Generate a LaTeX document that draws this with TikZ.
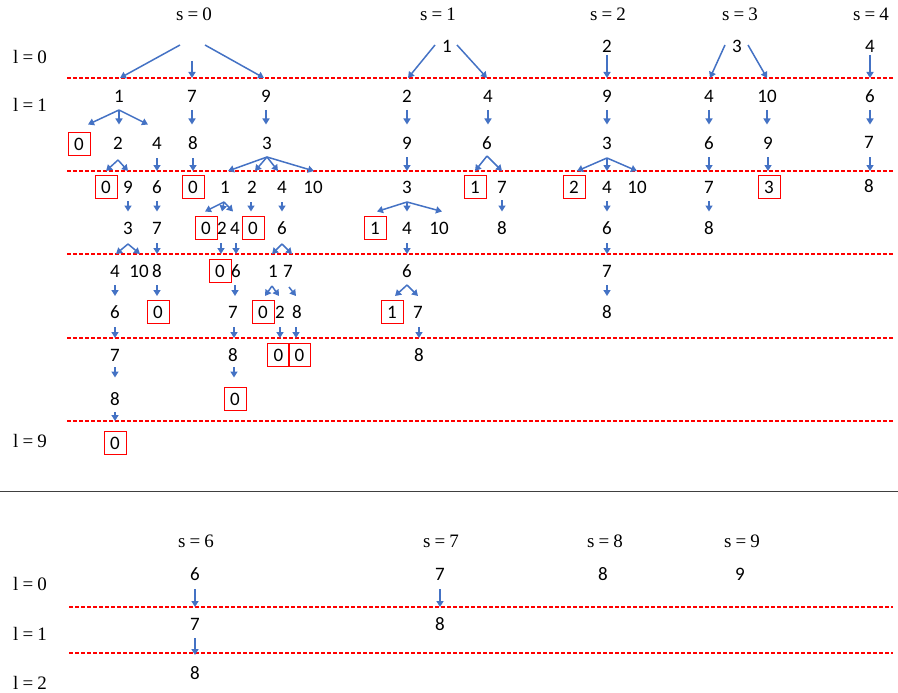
\documentclass[tikz,border=0pt]{standalone}
\usepackage{fontspec}
\setmainfont{Carlito}
\newfontfamily\labserif{Liberation Serif}
\usetikzlibrary{arrows.meta}
\definecolor{arrblue}{HTML}{4472C4}
\definecolor{dred}{HTML}{FF0000}
\newcommand\mynum[4]{\node[num] (#1) at (#2,#3) {#4};}
\newcommand\mybox[4]{\node[bx] (#1) at (#2,#3) {#4};}
\newcommand\myarr[4]{\draw[arr] (#1,#2) -- (#3,#4);}
\newcommand\myline[2]{\draw[dl] (67,#1) -- (893,#1);}
\newcommand\eqlab[2]{#1\hspace{0.22em}=\hspace{0.22em}#2}
\begin{document}
\begin{tikzpicture}[x=1pt,y=-1pt,
  num/.style={inner sep=0pt,font=\fontsize{19}{20}\selectfont},
  bx/.style={num,draw=dred,line width=0.9pt,minimum width=22pt,minimum height=23pt},
  lab/.style={inner sep=0pt,font=\labserif\fontsize{19}{20}\selectfont},
  arr/.style={draw=arrblue,line width=1.5pt,-{Triangle[length=6pt,width=7pt]}},
  dl/.style={draw=dred,line width=1.4pt,dash pattern=on 4pt off 2pt},
  sep/.style={draw=black!75,line width=1.1pt}]
\useasboundingbox (0,0) rectangle (898,693);
% ---------- labels ----------
\node[lab] (s0) at (194,14) {\eqlab{s}{0}};
\node[lab] (s1) at (438,14) {\eqlab{s}{1}};
\node[lab] (s2) at (608,14) {\eqlab{s}{2}};
\node[lab] (s3) at (740,14) {\eqlab{s}{3}};
\node[lab] (s4) at (871,14) {\eqlab{s}{4}};
\node[lab] (l0) at (30,57) {\eqlab{l}{0}};
\node[lab] (l1) at (30,105) {\eqlab{l}{1}};
\node[lab] (l9) at (30,441) {\eqlab{l}{9}};
% ---------- dashed level lines ----------
\myline{78}\myline{124.5}\myline{171}\myline{211.5}\myline{254}\myline{296}\myline{338}\myline{377.5}\myline{421}
% ---------- s = 0 ----------
\mynum{a0}{193}{46}{0}
\mynum{a1}{119}{96}{1}\mynum{a7}{192}{96}{7}\mynum{a9}{266}{96}{9}
\mybox{b0}{79}{144}{0}\mynum{b2}{118}{143}{2}\mynum{b4}{157}{143}{4}\mynum{b8}{193}{143}{8}\mynum{b3}{267}{143}{3}
\mybox{c0}{106}{187}{0}\mynum{c9}{128}{187}{9}\mynum{c6}{157}{187}{6}\mybox{c0b}{193}{187}{0}
\mynum{c1}{225}{187}{1}\mynum{c2}{252}{187}{2}\mynum{c4}{282}{187}{4}\mynum{c10}{313}{187}{10}
\mynum{d3}{128}{228}{3}\mynum{d7}{157}{228}{7}\mybox{d0}{206}{228}{0}\mynum{d2}{222}{228}{2}
\mynum{d4}{235}{228}{4}\mybox{d0b}{253}{228}{0}\mynum{d6}{282}{228}{6}
\mynum{e4}{115}{271}{4}\mynum{e10}{139}{271}{10}\mynum{e8}{157}{271}{8}\mybox{e0}{220}{271}{0}
\mynum{e6}{236}{271}{6}\mynum{e1}{273}{271}{1}\mynum{e7}{288}{271}{7}
\mynum{f6}{115}{312}{6}\mybox{f0}{158}{312}{0}\mynum{f7}{233}{312}{7}\mybox{f0b}{263}{312}{0}
\mynum{f2}{280}{312}{2}\mynum{f8}{297}{312}{8}
\mynum{g7}{115}{355}{7}\mynum{g8}{233}{355}{8}\mybox{g0}{278.5}{355}{0}\mybox{g0b}{299.5}{355}{0}
\mynum{h8}{115}{399}{8}\mybox{h0}{235}{399}{0}
\mybox{i0}{115}{443}{0}
\myarr{180}{45}{120}{78}\myarr{192}{61}{192}{78}\myarr{205}{45}{264}{78}
\myarr{119}{110}{88}{124.5}\myarr{119}{110}{119}{124.5}\myarr{119}{110}{148}{124.5}
\myarr{192}{110}{192}{124.5}\myarr{266}{110}{266}{124.5}
\myarr{118}{160}{106}{171}\myarr{118}{160}{128}{171}\myarr{157}{158}{157}{171}\myarr{193}{158}{193}{171}
\myarr{267}{157}{228}{171}\myarr{267}{157}{255}{171}\myarr{267}{157}{278}{171}\myarr{267}{157}{314}{171}
\myarr{128}{201}{128}{211.5}\myarr{157}{201}{157}{211.5}
\myarr{224}{202}{205}{211.5}\myarr{224}{202}{222}{211.5}\myarr{224}{202}{233}{211.5}
\myarr{251}{202}{251}{211.5}\myarr{282}{202}{282}{211.5}
\myarr{128}{244}{116}{254}\myarr{128}{244}{140}{254}\myarr{157}{243}{157}{254}
\myarr{221}{243}{221}{254}\myarr{236}{243}{236}{254}
\myarr{282}{244}{272}{254}\myarr{282}{244}{292}{254}
\myarr{115}{285}{115}{296}\myarr{157}{285}{157}{296}\myarr{235}{285}{235}{296}
\myarr{272}{286}{265}{296}\myarr{272}{286}{279}{296}\myarr{289}{287}{296}{296}
\myarr{115}{327}{115}{338}\myarr{234}{327}{234}{338}\myarr{280}{327}{280}{338}\myarr{296}{327}{296}{338}
\myarr{115}{367}{115}{377.5}\myarr{234}{367}{234}{377.5}
\myarr{115}{412}{115}{421}
% ---------- s = 1 ----------
\mynum{p1}{447}{46}{1}
\mynum{q2}{407}{96}{2}\mynum{q4}{488}{96}{4}
\mynum{r9}{407}{143}{9}\mynum{r6}{487}{143}{6}
\mynum{t3}{407}{187}{3}\mybox{t1}{475}{187}{1}\mynum{t7}{502}{187}{7}
\mybox{u1}{375}{228}{1}\mynum{u4}{407}{228}{4}\mynum{u10}{439}{228}{10}\mynum{u8}{502}{228}{8}
\mynum{v6}{407}{271}{6}
\mybox{w1}{392}{312}{1}\mynum{w7}{418}{312}{7}
\mynum{x8}{419}{355}{8}
\myarr{435}{45}{408}{78}\myarr{457}{45}{487}{78}
\myarr{407}{110}{407}{124.5}\myarr{488}{110}{488}{124.5}
\myarr{407}{157}{407}{171}\myarr{487}{156}{475}{171}\myarr{487}{156}{502}{171}
\myarr{407}{202}{377}{211.5}\myarr{407}{202}{407}{211.5}\myarr{407}{202}{442}{211.5}
\myarr{502}{200}{502}{211.5}
\myarr{407}{243}{407}{254}
\myarr{407}{285}{395}{296}\myarr{407}{285}{418}{296}
\myarr{419}{327}{419}{338}
% ---------- s = 2 ----------
\mynum{m2}{607}{46}{2}
\mynum{m9}{607}{96}{9}
\mynum{m3}{607}{143}{3}
\mybox{n2}{574}{187}{2}\mynum{n4}{607}{187}{4}\mynum{n10}{637}{187}{10}
\mynum{n6}{607}{228}{6}
\mynum{n7}{607}{271}{7}
\mynum{n8}{607}{312}{8}
\myarr{607}{55}{607}{78}\myarr{607}{110}{607}{124.5}
\myarr{607}{158}{577}{171}\myarr{607}{158}{607}{171}\myarr{607}{158}{637}{171}
\myarr{607}{201}{607}{211.5}\myarr{607}{243}{607}{254}\myarr{607}{285}{607}{296}
% ---------- s = 3 ----------
\mynum{k3}{737}{46}{3}
\mynum{k4}{709}{96}{4}\mynum{k10}{767}{96}{10}
\mynum{k6}{709}{143}{6}\mynum{k9}{768}{143}{9}
\mynum{k7}{709}{187}{7}\mybox{kb3}{769}{187}{3}
\mynum{k8}{709}{228}{8}
\myarr{725}{45}{710}{78}\myarr{748}{45}{767}{78}
\myarr{709}{110}{709}{124.5}\myarr{767}{110}{767}{124.5}
\myarr{709}{157}{709}{171}\myarr{768}{157}{768}{171}
\myarr{709}{201}{709}{211.5}
% ---------- s = 4 ----------
\mynum{z4}{870}{46}{4}
\mynum{z6}{870}{96}{6}
\mynum{z7}{869}{142}{7}
\mynum{z8}{869}{186}{8}
\myarr{870}{55}{870}{78}\myarr{870}{110}{870}{124.5}\myarr{870}{157}{870}{171}
% ---------- separator ----------
\draw[sep] (0,491.5) -- (898,491.5);
% ---------- bottom part ----------
\node[lab] (s6) at (196,541) {\eqlab{s}{6}};
\node[lab] (s7) at (441,541) {\eqlab{s}{7}};
\node[lab] (s8) at (605,541) {\eqlab{s}{8}};
\node[lab] (s9) at (742,541) {\eqlab{s}{9}};
\node[lab] (bl0) at (30,584) {\eqlab{l}{0}};
\node[lab] (bl1) at (30,634) {\eqlab{l}{1}};
\node[lab] (bl2) at (30,683) {\eqlab{l}{2}};
\draw[dl] (69,607) -- (893,607);
\draw[dl] (69,653) -- (893,653);
\mynum{B6}{195}{574}{6}\mynum{B7}{440}{574}{7}\mynum{B8}{603}{574}{8}\mynum{B9}{740}{574}{9}
\mynum{C7}{195}{624}{7}\mynum{C8}{440}{624}{8}
\mynum{D8}{195}{673}{8}
\myarr{195}{589}{195}{607}\myarr{440}{589}{440}{607}\myarr{195}{638}{195}{655}
\end{tikzpicture}
\end{document}
